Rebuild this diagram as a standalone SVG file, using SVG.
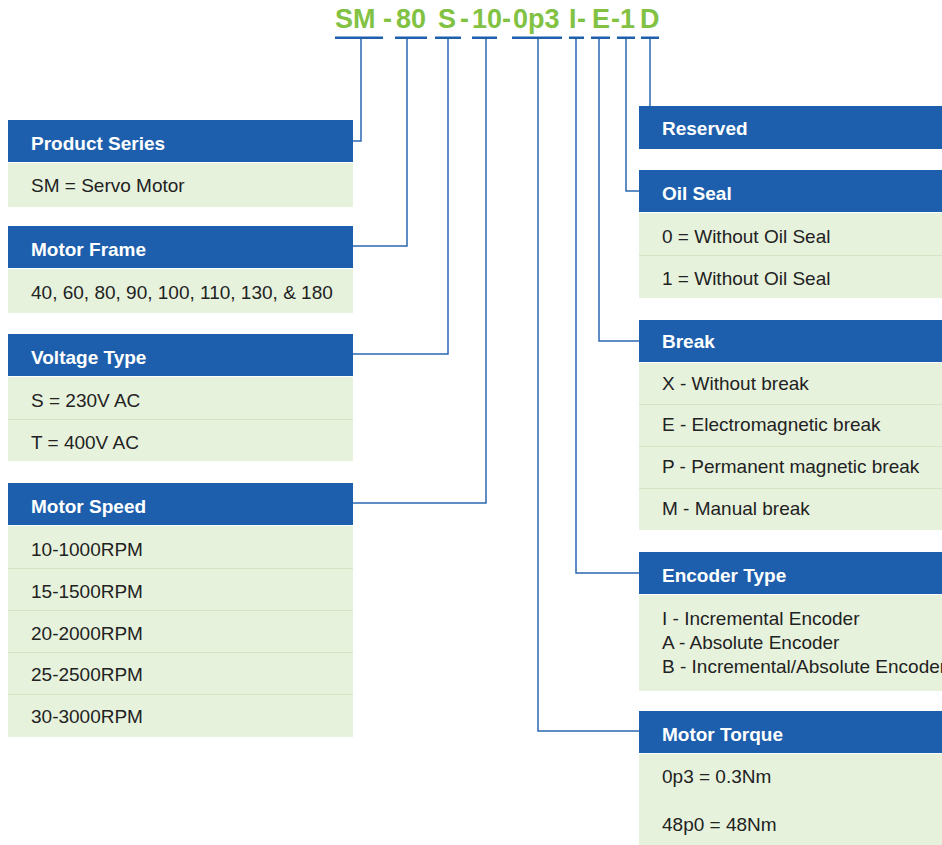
<svg xmlns="http://www.w3.org/2000/svg" width="942" height="845" viewBox="0 0 942 845">
<style>
.code{font-family:"Liberation Sans",Arial,sans-serif;font-weight:bold;font-size:27px;fill:#82c243}
.ul{fill:#1d5fad}
.hd{fill:#1d5fad}
.bd{fill:#e7f2dd}
.sep{stroke:#d3e5c4;stroke-width:1}
.ht{font-family:"Liberation Sans",Arial,sans-serif;font-weight:bold;font-size:19px;fill:#ffffff}
.bt{font-family:"Liberation Sans",Arial,sans-serif;font-size:19px;fill:#222222}
.cn{fill:none;stroke:#2a68b4;stroke-width:1.5}
</style>
<rect width="942" height="845" fill="#ffffff"/>
<g id="code">
<text class="code" x="335" y="28">SM</text>
<text class="code" x="383" y="28">-</text>
<text class="code" x="396" y="28">80</text>
<text class="code" x="438" y="28">S</text>
<text class="code" x="460" y="28">-</text>
<text class="code" x="472" y="28">10</text>
<text class="code" x="502" y="28">-</text>
<text class="code" x="513" y="28">0p3</text>
<text class="code" x="569" y="28">I</text>
<text class="code" x="577" y="28">-</text>
<text class="code" x="592" y="28">E</text>
<text class="code" x="611" y="28">-</text>
<text class="code" x="620" y="28">1</text>
<text class="code" x="640" y="28">D</text>
<rect class="ul" x="335" y="36.5" width="48" height="2.5"/>
<rect class="ul" x="395" y="36.5" width="32" height="2.5"/>
<rect class="ul" x="435" y="36.5" width="26" height="2.5"/>
<rect class="ul" x="472" y="36.5" width="25" height="2.5"/>
<rect class="ul" x="512" y="36.5" width="50" height="2.5"/>
<rect class="ul" x="569" y="36.5" width="15" height="2.5"/>
<rect class="ul" x="591" y="36.5" width="19" height="2.5"/>
<rect class="ul" x="617" y="36.5" width="18" height="2.5"/>
<rect class="ul" x="641" y="36.5" width="18" height="2.5"/>
</g>
<g id="connectors">
<polyline class="cn" points="361,39 361,141 353,141"/>
<polyline class="cn" points="407,39 407,246 353,246"/>
<polyline class="cn" points="448,39 448,354 353,354"/>
<polyline class="cn" points="486,39 486,503 353,503"/>
<polyline class="cn" points="538,39 538,731 639,731"/>
<polyline class="cn" points="576,39 576,573 639,573"/>
<polyline class="cn" points="599,39 599,341 639,341"/>
<polyline class="cn" points="626,39 626,191 639,191"/>
<polyline class="cn" points="650,39 650,106"/>
</g>
<g id="product-series">
<rect class="hd" x="8" y="120" width="345" height="42"/>
<rect class="bd" x="8" y="163" width="345" height="44"/>
<text class="ht" x="31" y="150">Product Series</text>
<text class="bt" x="31" y="192">SM = Servo Motor</text>
</g>
<g id="motor-frame">
<rect class="hd" x="8" y="226" width="345" height="42"/>
<rect class="bd" x="8" y="269" width="345" height="44"/>
<text class="ht" x="31" y="256">Motor Frame</text>
<text class="bt" x="31" y="299">40, 60, 80, 90, 100, 110, 130, &amp; 180</text>
</g>
<g id="voltage-type">
<rect class="hd" x="8" y="334" width="345" height="42"/>
<rect class="bd" x="8" y="377" width="345" height="84"/>
<line class="sep" x1="8" y1="419.5" x2="353" y2="419.5"/>
<text class="ht" x="31" y="364">Voltage Type</text>
<text class="bt" x="31" y="407">S = 230V AC</text>
<text class="bt" x="31" y="449">T = 400V AC</text>
</g>
<g id="motor-speed">
<rect class="hd" x="8" y="483" width="345" height="42"/>
<rect class="bd" x="8" y="526" width="345" height="211"/>
<line class="sep" x1="8" y1="568.5" x2="353" y2="568.5"/>
<line class="sep" x1="8" y1="610.5" x2="353" y2="610.5"/>
<line class="sep" x1="8" y1="652.5" x2="353" y2="652.5"/>
<line class="sep" x1="8" y1="694.5" x2="353" y2="694.5"/>
<text class="ht" x="31" y="513">Motor Speed</text>
<text class="bt" x="31" y="556">10-1000RPM</text>
<text class="bt" x="31" y="598">15-1500RPM</text>
<text class="bt" x="31" y="640">20-2000RPM</text>
<text class="bt" x="31" y="681">25-2500RPM</text>
<text class="bt" x="31" y="723">30-3000RPM</text>
</g>
<g id="reserved">
<rect class="hd" x="639" y="106" width="303" height="43"/>
<text class="ht" x="662" y="135">Reserved</text>
</g>
<g id="oil-seal">
<rect class="hd" x="639" y="170" width="303" height="42"/>
<rect class="bd" x="639" y="213" width="303" height="85"/>
<line class="sep" x1="639" y1="255.5" x2="942" y2="255.5"/>
<text class="ht" x="662" y="200">Oil Seal</text>
<text class="bt" x="662" y="243">0 = Without Oil Seal</text>
<text class="bt" x="662" y="285">1 = Without Oil Seal</text>
</g>
<g id="break">
<rect class="hd" x="639" y="320" width="303" height="42"/>
<rect class="bd" x="639" y="363" width="303" height="167"/>
<line class="sep" x1="639" y1="404.5" x2="942" y2="404.5"/>
<line class="sep" x1="639" y1="446.5" x2="942" y2="446.5"/>
<line class="sep" x1="639" y1="488.5" x2="942" y2="488.5"/>
<text class="ht" x="662" y="348">Break</text>
<text class="bt" x="662" y="390">X - Without break</text>
<text class="bt" x="662" y="431">E - Electromagnetic break</text>
<text class="bt" x="662" y="473">P - Permanent magnetic break</text>
<text class="bt" x="662" y="515">M - Manual break</text>
</g>
<g id="encoder-type">
<rect class="hd" x="639" y="552" width="303" height="42"/>
<rect class="bd" x="639" y="595" width="303" height="96"/>
<text class="ht" x="662" y="582">Encoder Type</text>
<text class="bt" x="662" y="625">I - Incremental Encoder</text>
<text class="bt" x="662" y="649">A - Absolute Encoder</text>
<text class="bt" x="662" y="673">B - Incremental/Absolute Encoder</text>
</g>
<g id="motor-torque">
<rect class="hd" x="639" y="711" width="303" height="42"/>
<rect class="bd" x="639" y="754" width="303" height="91"/>
<text class="ht" x="662" y="741">Motor Torque</text>
<text class="bt" x="662" y="783">0p3 = 0.3Nm</text>
<text class="bt" x="662" y="831">48p0 = 48Nm</text>
</g>
</svg>
